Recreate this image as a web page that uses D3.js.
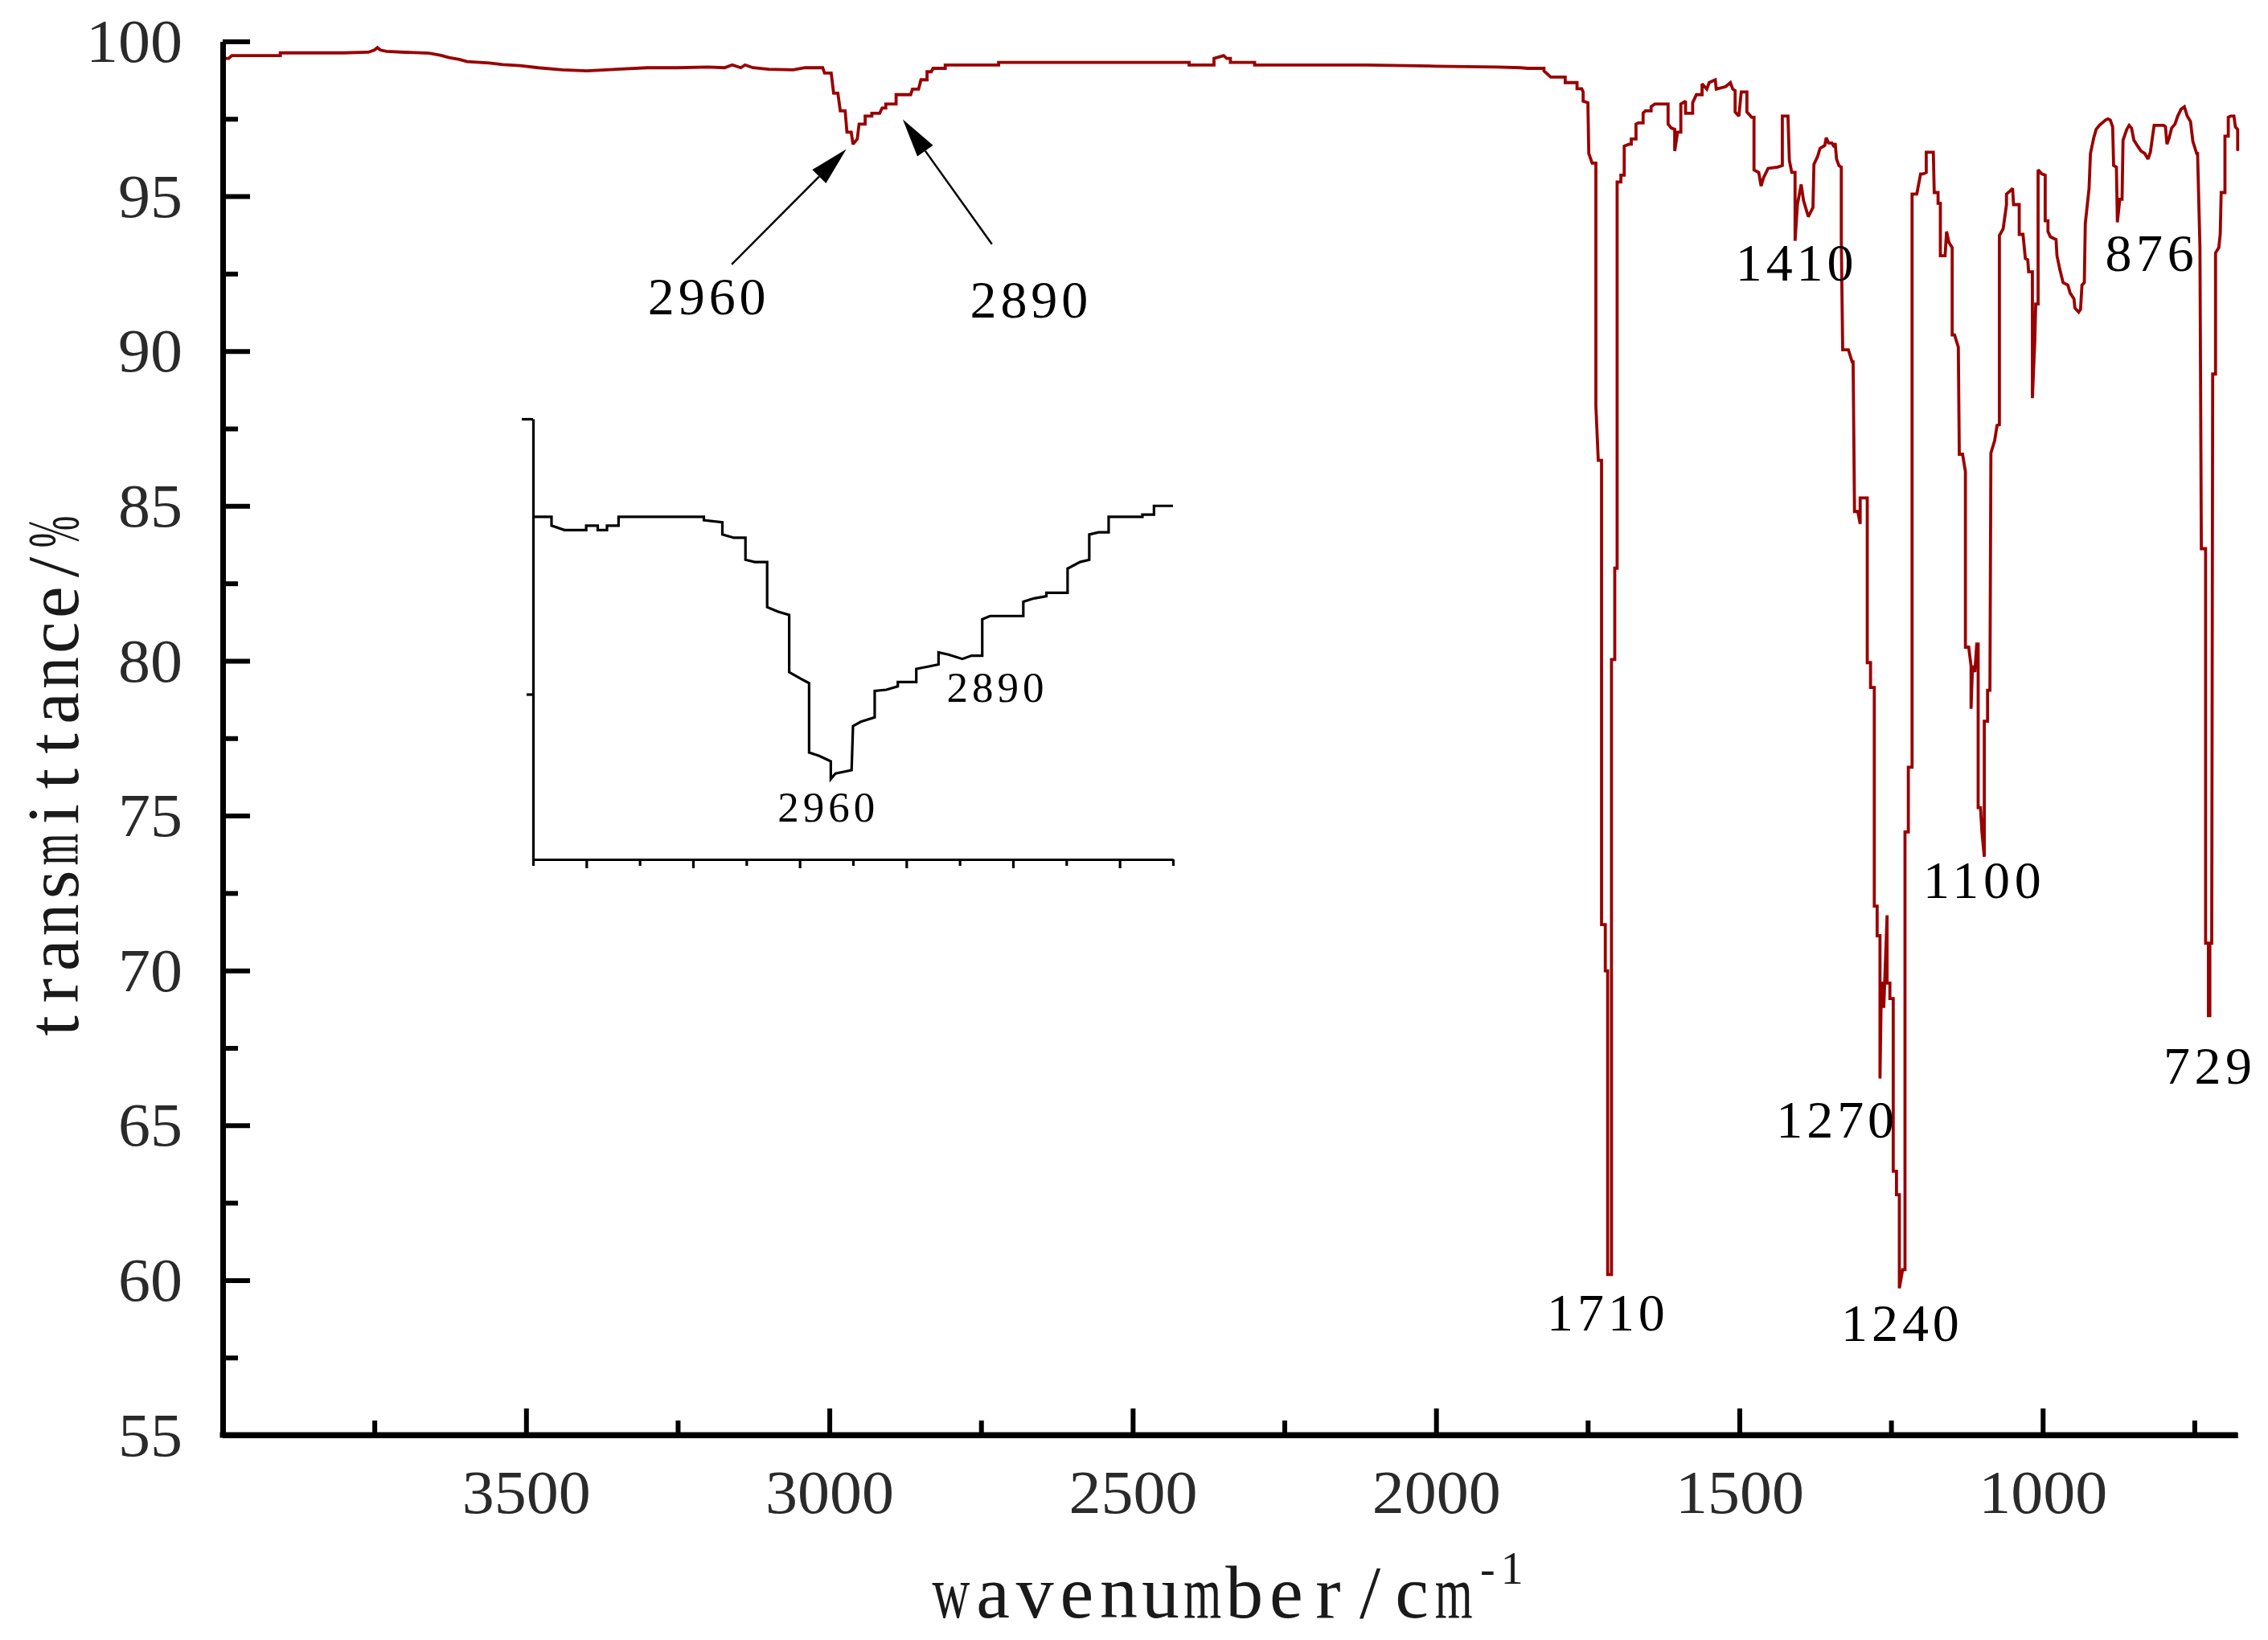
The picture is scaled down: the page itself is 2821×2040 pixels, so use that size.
<!DOCTYPE html>
<html><head><meta charset="utf-8">
<script src="https://cdn.jsdelivr.net/npm/d3@7"></script>
<style>html,body{margin:0;padding:0;background:#fff;}svg{display:block;}</style>
</head><body>
<svg id="chart" width="2821" height="2040"></svg>
<script>
// ---------------- data ----------------
const xMajorTicks = [3500, 3000, 2500, 2000, 1500, 1000];
const xMinorTicks = [3750, 3250, 2750, 2250, 1750, 1250, 750];
const yMajorTicks = [55, 60, 65, 70, 75, 80, 85, 90, 95, 100];
const yMinorTicks = [57.5, 62.5, 67.5, 72.5, 77.5, 82.5, 87.5, 92.5, 97.5];
const xTitle = "wavenumber/cm";
const xTitleSup = "-1";
const yTitle = "transmittance/%";

// main spectrum, [wavenumber, transmittance]
const spectrumHigh = [[4000,99.45],[3990,99.45],[3985,99.54],[3905,99.54],[3905,99.63],[3800,99.63],[3760,99.65],[3750,99.72],[3745,99.8],[3740,99.72],[3730,99.68],[3700,99.65],[3660,99.62],[3640,99.55],[3627,99.48],[3610,99.42],[3597,99.35],[3560,99.3],[3538,99.25],[3510,99.22],[3480,99.15],[3440,99.08],[3400,99.05],[3350,99.1],[3300,99.15],[3250,99.15],[3200,99.17],[3173,99.15],[3160,99.24],[3146,99.15],[3139,99.24],[3126,99.15],[3100,99.1],[3060,99.08],[3040,99.15],[3015,99.15]];
const spectrumCH = [[3011,99.15],[3008,98.98],[2997,98.98],[2993,98.33],[2986,98.33],[2982,97.76],[2974,97.76],[2971,97.07],[2964,97.07],[2961,96.68],[2954,96.85],[2951,97.33],[2941,97.33],[2941,97.59],[2930,97.59],[2930,97.68],[2917,97.68],[2913,97.85],[2907,97.85],[2907,97.98],[2890,97.98],[2890,98.28],[2866,98.28],[2863,98.46],[2853,98.46],[2849,98.76],[2839,98.76],[2839,99.02],[2832,99.02],[2829,99.13],[2809,99.13],[2809,99.24]];
const spectrumMid = [[2721,99.24],[2721,99.32],[2407,99.32],[2407,99.24],[2366,99.24],[2366,99.45],[2350,99.54],[2345,99.45],[2339,99.45],[2339,99.32],[2299,99.32],[2299,99.24],[2114,99.24],[2000,99.2],[1900,99.17],[1860,99.15]];
const spectrumFingerprint = [[1849.3,99.13],[1822.1,99.13],[1822.1,99.05],[1811,98.85],[1787.1,98.85],[1787.1,98.67],[1767.6,98.67],[1767.6,98.47],[1759.8,98.47],[1757.5,98.37],[1757.5,98.07],[1749.7,98.02],[1748.2,96.38],[1742.7,96.07],[1736.5,96.07],[1736.5,88.22],[1732.6,86.47],[1727.2,86.47],[1727.2,71.48],[1721.0,71.48],[1721.0,69.99],[1717.1,69.99],[1717.1,60.18],[1710.8,60.18],[1710.8,80.04],[1705.4,80.04],[1705.4,82.99],[1701.5,82.99],[1701.5,95.46],[1695.3,95.46],[1695.3,95.68],[1689.8,95.68],[1689.8,96.62],[1682.1,96.68],[1678.2,96.68],[1678.2,96.85],[1670.4,96.85],[1670.4,97.33],[1666.5,97.37],[1658.7,97.37],[1658.7,97.68],[1654.8,97.76],[1645.5,97.76],[1645.5,97.89],[1639.3,97.98],[1617.5,97.98],[1617.5,97.33],[1612.0,97.20],[1606.6,97.16],[1606.6,96.46],[1601.9,97.07],[1596.5,97.07],[1596.5,97.98],[1588.7,98.07],[1588.7,97.68],[1577.0,97.68],[1577.0,98.02],[1570.8,98.28],[1561.5,98.28],[1561.5,98.63],[1553.7,98.46],[1549.8,98.67],[1539.7,98.76],[1538.1,98.46],[1522.6,98.54],[1514.8,98.67],[1510.9,98.46],[1507.0,98.41],[1507.0,97.72],[1500.8,97.59],[1496.9,98.37],[1487.6,98.37],[1487.6,97.72],[1479.8,97.55],[1475.9,97.55],[1475.9,95.85],[1468.1,95.77],[1464.2,95.33],[1460.4,95.59],[1452.6,95.90],[1437.0,95.94],[1429.2,95.99],[1429.2,97.59],[1419.9,97.59],[1417.6,96.16],[1413.7,95.77],[1408.2,95.77],[1408.2,93.56],[1404.3,94.73],[1398.1,95.38],[1394.2,94.86],[1386.4,94.34],[1378.7,94.64],[1377.1,96.03],[1370.9,96.29],[1367.0,96.55],[1359.2,96.64],[1356.9,96.89],[1353.0,96.72],[1347.6,96.72],[1343.7,96.59],[1342.1,96.72],[1339.8,96.20],[1335.9,95.99],[1332.0,95.94],[1332.0,93.60],[1329.7,90.04],[1320.3,90.04],[1314.1,89.65],[1312.5,89.65],[1310.2,84.82],[1304.8,84.82],[1300.9,84.42],[1300.9,85.26],[1289.2,85.26],[1289.2,79.94],[1283.8,79.94],[1283.8,79.14],[1277.6,79.14],[1277.6,72.08],[1272.9,72.08],[1272.9,71.12],[1268.2,71.12],[1268.2,66.51],[1265.9,69.59],[1262.0,69.59],[1262.0,68.79],[1256.5,71.78],[1256.5,69.59],[1251.9,69.59],[1251.9,69.09],[1246.4,69.09],[1246.4,63.52],[1241.0,63.52],[1241.0,62.76],[1236.3,62.76],[1236.3,59.74],[1230.9,60.34],[1227.0,60.34],[1227.0,74.47],[1221.5,74.47],[1221.5,76.56],[1215.3,76.56],[1215.3,95.07],[1207.6,95.07],[1201.3,95.72],[1197.4,95.72],[1192.0,95.77],[1192.0,96.42],[1180.3,96.42],[1178.8,95.12],[1172.5,95.12],[1172.5,94.77],[1168.7,94.77],[1168.7,93.08],[1160.9,93.08],[1158.5,93.86],[1154.6,93.51],[1149.2,93.34],[1149.2,90.52],[1145.3,90.52],[1139.1,90.13],[1137.5,86.67],[1132.1,86.67],[1127.4,86.11],[1127.4,80.44],[1122.0,80.44],[1118.1,79.84],[1118.1,78.45],[1115.7,79.84],[1111.9,79.64],[1108.7,80.54],[1106.4,80.54],[1106.4,75.26],[1102.5,75.26],[1100.2,74.47],[1096.3,73.67],[1096.3,78.05],[1090.9,78.05],[1090.9,79.05],[1087.0,79.05],[1085.4,86.71],[1079.2,87.11],[1075.3,87.60],[1071.4,87.62],[1071.4,93.73],[1065.2,93.95],[1059.7,94.73],[1059.7,95.07],[1054.3,95.16],[1049.6,95.25],[1048.1,94.73],[1038.7,94.73],[1038.7,93.77],[1032.5,93.77],[1028.6,92.99],[1024.7,92.95],[1023.2,92.56],[1017.0,92.56],[1017.0,88.48],[1013.1,90.30],[1011.5,91.52],[1007.6,91.52],[1007.6,95.85],[1001.4,95.72],[995.9,95.68],[995.9,94.21],[991.3,94.21],[991.3,93.86],[987.4,93.69],[978.0,93.60],[976.5,93.08],[971.8,92.64],[966.4,92.21],[958.6,92.13],[954.7,91.87],[948.5,91.69],[946.9,91.39],[940.7,91.26],[937.6,91.35],[935.3,92.13],[931.4,92.21],[929.8,94.12],[923.6,95.25],[921.3,96.38],[915.8,96.89],[911.9,97.16],[906.5,97.29],[896.4,97.46],[892.5,97.50],[888.6,97.46],[884.7,97.24],[883.1,95.99],[878.5,95.94],[876.9,94.16],[873.0,94.90],[869.2,94.90],[867.6,96.81],[861.4,97.16],[857.5,97.29],[853.6,97.20],[849.7,96.81],[844.2,96.64],[838.0,96.46],[831.8,96.38],[826.4,96.20],[822.5,96.42],[818.6,96.98],[816.3,97.29],[800.7,97.29],[797.6,97.24],[795.2,96.68],[791.4,96.89],[787.5,97.20],[782.0,97.33],[777.4,97.59],[771.9,97.81],[766.5,97.89],[761.8,97.59],[756.3,97.41],[752.5,96.77],[746.2,96.38],[744.7,96.38],[740.8,93.34],[738.5,83.62],[731.5,83.62],[731.5,70.88],[726.8,70.88],[726.8,68.54],[724.5,68.54],[724.5,70.88],[721.4,70.88],[719.8,89.26],[715.1,89.26],[715.1,93.17],[709.7,93.34],[707.4,93.77],[705.8,95.12],[699.6,95.12],[699.6,96.94],[694.1,96.94],[694.1,97.55],[690.2,97.59],[684.8,97.59],[682.4,97.24],[678.6,97.16],[678.6,96.46]];

// inset (zoom of the C-H band), [wavenumber, transmittance]
const insetSpectrum = [[3140,99.11],[3129.6,99.11],[3129.6,99.03],[3122.3,98.99],[3110.1,98.99],[3110.1,99.03],[3103.6,99.03],[3103.6,98.99],[3098.4,98.99],[3098.4,99.03],[3091.9,99.03],[3091.9,99.11],[3043.9,99.11],[3043.9,99.08],[3033.5,99.06],[3033.5,98.95],[3027.0,98.92],[3020.5,98.92],[3020.5,98.72],[3015.3,98.70],[3008.3,98.70],[3008.3,98.29],[3002.3,98.25],[2995.9,98.22],[2995.9,97.70],[2989.3,97.64],[2984.7,97.60],[2984.7,96.97],[2979.0,96.94],[2972.5,96.89],[2972.5,96.73],[2969.9,96.78],[2960.8,96.81],[2960.0,97.21],[2955.6,97.25],[2947.8,97.29],[2947.8,97.53],[2941.3,97.54],[2934.8,97.57],[2934.8,97.61],[2924.4,97.61],[2924.4,97.73],[2917.9,97.75],[2911.9,97.77],[2911.9,97.88],[2906.3,97.86],[2898.5,97.82],[2893.3,97.85],[2887.3,97.85],[2887.3,98.18],[2882.9,98.21],[2864.2,98.21],[2864.2,98.34],[2858.2,98.37],[2851.2,98.39],[2851.2,98.42],[2839.3,98.42],[2839.3,98.64],[2832.3,98.70],[2827.1,98.72],[2827.1,98.95],[2821.9,98.97],[2816.2,98.97],[2816.2,99.11],[2797.2,99.11],[2797.2,99.13],[2790.7,99.13],[2790.7,99.21],[2780,99.21]];
const insetXTicks = [3140, 3110, 3080, 3050, 3020, 2990, 2960, 2930, 2900, 2870, 2840, 2810, 2780];
const insetYTicks = [100, 97.5];

// peak labels: text and anchor (wavenumber, transmittance at label baseline)
const peakLabels = [
  {text: "1710", wn: 1720, t: 58.38},
  {text: "1240", wn: 1235, t: 58.04},
  {text: "1270", wn: 1342, t: 64.61},
  {text: "1100", wn: 1100, t: 72.33},
  {text: "729",  wn: 728,  t: 66.35},
  {text: "1410", wn: 1409, t: 92.28},
  {text: "876",  wn: 824,  t: 92.60},
  {text: "2960", wn: 3202, t: 91.19},
  {text: "2890", wn: 2671, t: 91.09}
];
// arrows: tail -> tip in data units
const arrows = [
  {from: [3161, 92.80], to: [2972, 96.52]},
  {from: [2732, 93.45], to: [2879, 97.48]}
];
const insetLabels = [
  {text: "2960", wn: 2975, t: 96.34},
  {text: "2890", wn: 2880, t: 97.43}
];

// ---------------- drawing ----------------
const svg = d3.select('#chart');
svg.append('rect').attr('width', 2821).attr('height', 2040).attr('fill', '#fff');

const x = d3.scaleLinear().domain([4000, 679]).range([277, 2783]);
const y = d3.scaleLinear().domain([55, 100]).range([1785, 51.5]);

const serif = "'Liberation Serif', 'Times New Roman', serif";

// main spectrum
const mainSeries = [].concat(spectrumHigh, spectrumCH, spectrumMid, spectrumFingerprint);
const line = d3.line().x(d => x(d[0])).y(d => y(d[1]));
svg.append('path').datum(mainSeries).attr('d', line)
  .attr('fill', 'none').attr('stroke', '#990000').attr('stroke-width', 3.8)
  .attr('stroke-linejoin', 'miter').attr('stroke-miterlimit', 2);

// axes
function styleAxis(g) {
  g.select('.domain').attr('stroke', '#000').attr('stroke-width', 7);
  g.selectAll('.tick line').attr('stroke', '#000').attr('stroke-width', 6);
  g.selectAll('.tick text').attr('fill', '#2a2a2a').style('font-family', serif).style('font-size', '76px')
    .attr('textLength', function () { return this.textContent.length * 40; })
    .attr('lengthAdjust', 'spacingAndGlyphs');
}
function dropEmptyLabels(g) { g.selectAll('.tick text').filter(function () { return !this.textContent; }).remove(); }

const yMinor = svg.append('g').attr('transform', 'translate(277,0)')
  .call(d3.axisLeft(y).tickValues(yMinorTicks).tickSize(-19).tickSizeOuter(0).tickFormat(''));
styleAxis(yMinor); dropEmptyLabels(yMinor);
const yMajor = svg.append('g').attr('transform', 'translate(277,0)')
  .call(d3.axisLeft(y).tickValues(yMajorTicks).tickSize(-34).tickSizeOuter(0).tickPadding(50).tickFormat(d3.format('d')));
styleAxis(yMajor);
yMajor.selectAll('.tick text').attr('dy', '0.33em');

const xMinor = svg.append('g').attr('transform', 'translate(0,1785)')
  .call(d3.axisBottom(x).tickValues(xMinorTicks).tickSize(-18).tickSizeOuter(0).tickFormat(''));
styleAxis(xMinor); dropEmptyLabels(xMinor);
const xMajor = svg.append('g').attr('transform', 'translate(0,1785)')
  .call(d3.axisBottom(x).tickValues(xMajorTicks).tickSize(-33).tickSizeOuter(0).tickFormat(d3.format('d')));
styleAxis(xMajor);
xMajor.selectAll('.tick text').attr('y', 97).attr('dy', null);
svg.append('line').attr('x1', 273.5).attr('x2', 2783).attr('y1', 1785).attr('y2', 1785)
  .attr('stroke', '#000').attr('stroke-width', 7);

// monospaced serif-like title: one glyph per fixed-width cell, wide glyphs squeezed by a scale
function monoSerif(parent, str, transform, pitch, fs) {
  const g = parent.append('g').attr('transform', transform);
  const maxW = pitch * 0.9;
  [...str].forEach((ch, i) => {
    const cell = g.append('g');
    const t = cell.append('text').attr('x', 0).attr('y', 0).attr('text-anchor', 'middle')
      .style('font-family', serif).style('font-size', fs + 'px').attr('fill', '#1a1a1a').text(ch);
    const w = t.node().getComputedTextLength();
    const s = w > maxW ? maxW / w : 1;
    cell.attr('transform', `translate(${pitch * (i + 0.5)},0) scale(${s},1)`);
  });
  return g;
}
monoSerif(svg, xTitle, 'translate(1157,2012)', 52.1, 94);
svg.append('text').attr('x', 1841).attr('y', 1970).style('letter-spacing', '7px')
  .style('font-family', serif).style('font-size', '56px').attr('fill', '#1a1a1a').text(xTitleSup);
monoSerif(svg, yTitle, 'translate(97,1298) rotate(-90)', 43.9, 92);

// peak labels
svg.append('g').selectAll('text').data(peakLabels).join('text')
  .attr('x', d => x(d.wn)).attr('y', d => y(d.t)).attr('text-anchor', 'middle')
  .attr('textLength', d => d.text.length * 36.7).attr('lengthAdjust', 'spacing')
  .style('font-family', serif).style('font-size', '66px').attr('fill', '#000')
  .text(d => d.text);

// arrows
const ag = svg.append('g');
arrows.forEach(a => {
  const x1 = x(a.from[0]), y1 = y(a.from[1]), x2 = x(a.to[0]), y2 = y(a.to[1]);
  const dx = x2 - x1, dy = y2 - y1, L = Math.hypot(dx, dy), ux = dx / L, uy = dy / L;
  const hl = 48, hw = 12;
  const bx = x2 - ux * hl, by = y2 - uy * hl;
  ag.append('line').attr('x1', x1).attr('y1', y1).attr('x2', bx).attr('y2', by)
    .attr('stroke', '#000').attr('stroke-width', 2.5);
  ag.append('path').attr('d', `M${x2},${y2}L${bx - uy * hw},${by + ux * hw}L${bx + uy * hw},${by - ux * hw}Z`)
    .attr('fill', '#000');
});

// inset
const xi = d3.scaleLinear().domain([3140, 2780]).range([663, 1459]);
const yi = d3.scaleLinear().domain([96, 100]).range([1069, 521]);
const inset = svg.append('g');
inset.append('path').datum(insetSpectrum)
  .attr('d', d3.line().x(d => xi(d[0])).y(d => yi(d[1])))
  .attr('fill', 'none').attr('stroke', '#000').attr('stroke-width', 3.2);
const ixAxis = inset.append('g').attr('transform', 'translate(0,1069)')
  .call(d3.axisBottom(xi).tickValues(insetXTicks).tickSize(10).tickSizeOuter(0).tickFormat(''));
ixAxis.selectAll('.tick line').attr('y2', (d, i) => i % 2 === 1 ? 11 : 8);
const iyAxis = inset.append('g').attr('transform', 'translate(663,0)')
  .call(d3.axisLeft(yi).tickValues(insetYTicks).tickSize(12).tickSizeOuter(0).tickFormat(''));
iyAxis.selectAll('.tick line').attr('x2', d => d === 100 ? -14 : -8);
[ixAxis, iyAxis].forEach(g => {
  g.select('.domain').attr('stroke', '#000').attr('stroke-width', 3.2);
  g.selectAll('.tick line').attr('stroke', '#000').attr('stroke-width', 3.2);
  dropEmptyLabels(g);
});
inset.selectAll('text.il').data(insetLabels).join('text').attr('class', 'il')
  .attr('x', d => xi(d.wn)).attr('y', d => yi(d.t)).attr('text-anchor', 'middle')
  .attr('textLength', 121).attr('lengthAdjust', 'spacing')
  .style('font-family', serif).style('font-size', '53px').attr('fill', '#000')
  .text(d => d.text);
</script>
</body></html>
